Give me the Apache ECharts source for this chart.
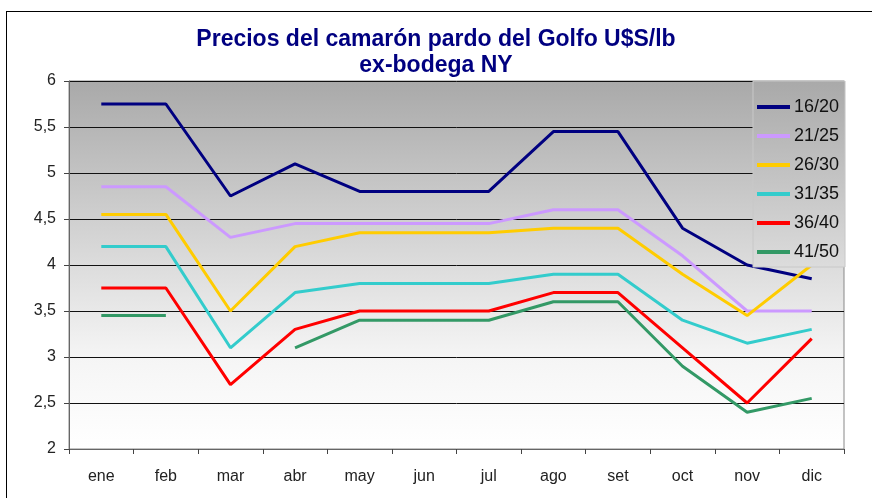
<!DOCTYPE html>
<html>
<head>
<meta charset="utf-8">
<script src="https://cdn.jsdelivr.net/npm/echarts@6/dist/echarts.min.js"></script>
<style>
  html, body { margin: 0; padding: 0; background: #fff; overflow: hidden; }
  #frame { position: absolute; left: 6px; top: 11px; width: 900px; height: 600px; border: 1px solid #000; box-sizing: border-box; }
  #chart { position: absolute; left: 0; top: 0; width: 872px; height: 498px; }
</style>
</head>
<body>
<div id="frame"></div>
<div id="chart"></div>
<script>
// meses
const months = ['ene', 'feb', 'mar', 'abr', 'may', 'jun', 'jul', 'ago', 'set', 'oct', 'nov', 'dic']
// precios por talla (U$S/lb)
const s1620 = [5.75, 5.75, 4.75, 5.1, 4.8, 4.8, 4.8, 5.45, 5.45, 4.4, 4.0, 3.85]
const s2125 = [4.85, 4.85, 4.3, 4.45, 4.45, 4.45, 4.45, 4.6, 4.6, 4.1, 3.5, 3.5]
const s2630 = [4.55, 4.55, 3.5, 4.2, 4.35, 4.35, 4.35, 4.4, 4.4, 3.9, 3.45, 4.0]
const s3135 = [4.2, 4.2, 3.1, 3.7, 3.8, 3.8, 3.8, 3.9, 3.9, 3.4, 3.15, 3.3]
const s3640 = [3.75, 3.75, 2.7, 3.3, 3.5, 3.5, 3.5, 3.7, 3.7, 3.1, 2.5, 3.2]
const s4150 = [3.45, 3.45, null, 3.1, 3.4, 3.4, 3.4, 3.6, 3.6, 2.9, 2.4, 2.55]

const seriesList = [
  { name: '16/20', data: s1620, color: '#000080' },
  { name: '21/25', data: s2125, color: '#cc99ff' },
  { name: '26/30', data: s2630, color: '#ffcc00' },
  { name: '31/35', data: s3135, color: '#33cccc' },
  { name: '36/40', data: s3640, color: '#ff0000' },
  { name: '41/50', data: s4150, color: '#339966' }
]

const font = 'Liberation Sans, Arial, sans-serif'
const chart = echarts.init(document.getElementById('chart'))

chart.setOption({
  animation: false,
  title: {
    text: 'Precios del camarón pardo del Golfo U$S/lb\nex-bodega NY',
    left: 'center',
    top: 22,
    textStyle: {
      color: '#000080',
      fontFamily: font,
      fontWeight: 'bold',
      fontSize: 23,
      lineHeight: 26
    }
  },
  grid: {
    left: 69,
    right: 28,
    top: 81,
    bottom: 49,
    show: true,
    borderColor: '#888',
    borderWidth: 1,
    backgroundColor: new echarts.graphic.LinearGradient(0, 0, 0, 1, [
      { offset: 0, color: '#a9a9a9' },
      { offset: 0.5, color: '#dcdcdc' },
      { offset: 0.75, color: '#f5f5f5' },
      { offset: 1, color: '#ffffff' }
    ])
  },
  legend: {
    orient: 'vertical',
    left: 753,
    top: 81,
    padding: [17, 6, 6, 4],
    itemWidth: 33,
    itemHeight: 4,
    itemGap: 11,
    icon: 'rect',
    backgroundColor: new echarts.graphic.LinearGradient(0, 0, 0, 1, [
      { offset: 0, color: '#a9a9a9' },
      { offset: 1, color: '#dcdcdc' }
    ]),
    borderColor: '#c8c8c8',
    borderWidth: 1,
    textStyle: {
      fontFamily: font,
      fontSize: 18,
      lineHeight: 18,
      color: '#111',
      padding: [0, 0, 0, -1]
    },
    data: seriesList.map(s => s.name)
  },
  xAxis: {
    type: 'category',
    data: months,
    boundaryGap: true,
    axisLine: { lineStyle: { color: '#666' } },
    axisTick: { show: true, length: 5, lineStyle: { color: '#444' } },
    axisLabel: { color: '#222', fontFamily: font, fontSize: 16, margin: 20 }
  },
  yAxis: {
    type: 'value',
    min: 2,
    max: 6,
    interval: 0.5,
    axisLine: { show: true, lineStyle: { color: '#666' } },
    axisTick: { show: true, length: 5, lineStyle: { color: '#444' } },
    axisLabel: {
      color: '#222',
      fontFamily: font,
      fontSize: 16,
      margin: 13,
      formatter: v => String(v).replace('.', ',')
    },
    splitLine: { lineStyle: { color: '#111', width: 1 } }
  },
  series: seriesList.map(s => ({
    name: s.name,
    type: 'line',
    data: s.data,
    showSymbol: false,
    connectNulls: false,
    color: s.color,
    lineStyle: { width: 3, color: s.color }
  }))
})
</script>
</body>
</html>
